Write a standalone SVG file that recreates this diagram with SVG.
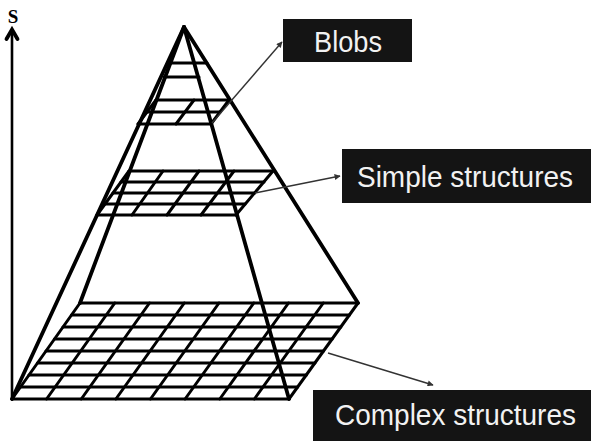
<svg xmlns="http://www.w3.org/2000/svg" width="591" height="441" viewBox="0 0 591 441">
  <style>
    .edge { stroke: #000; stroke-width: 3.8; stroke-linecap: round; fill: none; }
    .grid { stroke: #000; stroke-width: 3; stroke-linecap: round; fill: none; }
    .conn { stroke: #333; stroke-width: 1.4; fill: none; }
    .box { fill: #141414; }
    .lbl { font-family: "Liberation Sans", Arial, sans-serif; font-size: 29px; fill: #f2f2f2; }
    .axis { font-family: "Liberation Serif", "Times New Roman", serif; font-size: 19px; font-weight: bold; fill: #000; }
  </style>
  <defs>
    <marker id="ah" viewBox="0 0 10 10" refX="9" refY="5" markerWidth="7" markerHeight="6" orient="auto" markerUnits="userSpaceOnUse">
      <path d="M0,0 L10,5 L0,10 z" fill="#333"/>
    </marker>
  </defs>
  <rect width="591" height="441" fill="#fff"/>

  <g id="axis">
    <line class="grid" x1="12" y1="399" x2="12" y2="31" style="stroke-width:2.6"/>
    <polyline class="edge" points="6.5,39 12,29.5 17.5,39"/>
    <text class="axis" x="13" y="23" text-anchor="middle">S</text>
  </g>

  <g id="pyramid">
    <line class="edge" x1="184" y1="27" x2="12" y2="399"/>
    <line class="edge" x1="184" y1="27" x2="80" y2="303"/>
    <line class="edge" x1="184" y1="27" x2="289" y2="399"/>
    <line class="edge" x1="184" y1="27" x2="358" y2="303"/>
  </g>

  <g id="plane-top">
    <line class="grid" x1="172" y1="63" x2="207" y2="63"/>
    <line class="grid" x1="164" y1="77" x2="199" y2="77"/>
  </g>

  <g id="plane-blobs">
    <line class="grid" x1="156" y1="100" x2="229" y2="100"/>
    <line class="grid" x1="147" y1="112" x2="220" y2="112"/>
    <line class="grid" x1="138" y1="124" x2="211" y2="124"/>
    <line class="grid" x1="156" y1="100" x2="138" y2="124"/>
    <line class="grid" x1="194" y1="100" x2="176" y2="124"/>
    <line class="grid" x1="229" y1="100" x2="211" y2="124"/>
  </g>

  <g id="plane-simple">
    <line class="grid" x1="129" y1="171" x2="273" y2="171"/>
    <line class="grid" x1="121" y1="182" x2="264" y2="182"/>
    <line class="grid" x1="113" y1="193" x2="254.5" y2="193"/>
    <line class="grid" x1="105" y1="204" x2="245" y2="204"/>
    <line class="grid" x1="97" y1="215" x2="236" y2="215"/>
    <line class="grid" x1="129" y1="171" x2="97" y2="215"/>
    <line class="grid" x1="163" y1="171" x2="132" y2="215"/>
    <line class="grid" x1="199" y1="171" x2="167" y2="215"/>
    <line class="grid" x1="234" y1="171" x2="201" y2="215"/>
    <line class="grid" x1="273" y1="171" x2="236" y2="215"/>
  </g>

  <g id="plane-complex">
    <line class="grid" x1="80" y1="303" x2="358" y2="303"/>
    <line class="grid" x1="71.5" y1="315" x2="349.4" y2="315"/>
    <line class="grid" x1="63" y1="327" x2="340.8" y2="327"/>
    <line class="grid" x1="54.5" y1="339" x2="332.1" y2="339"/>
    <line class="grid" x1="46" y1="351" x2="323.5" y2="351"/>
    <line class="grid" x1="37.5" y1="363" x2="314.9" y2="363"/>
    <line class="grid" x1="29" y1="375" x2="306.3" y2="375"/>
    <line class="grid" x1="20.5" y1="387" x2="297.6" y2="387"/>
    <line class="grid" x1="12" y1="399" x2="289" y2="399"/>
    <line class="grid" x1="80" y1="303" x2="12" y2="399"/>
    <line class="grid" x1="114.8" y1="303" x2="46.6" y2="399"/>
    <line class="grid" x1="149.5" y1="303" x2="81.3" y2="399"/>
    <line class="grid" x1="184.3" y1="303" x2="115.9" y2="399"/>
    <line class="grid" x1="219" y1="303" x2="150.5" y2="399"/>
    <line class="grid" x1="253.8" y1="303" x2="185.1" y2="399"/>
    <line class="grid" x1="288.5" y1="303" x2="219.8" y2="399"/>
    <line class="grid" x1="323.3" y1="303" x2="254.4" y2="399"/>
    <line class="grid" x1="358" y1="303" x2="289" y2="399"/>
  </g>

  <g id="connectors">
    <line class="conn" x1="212" y1="123" x2="282" y2="42" marker-end="url(#ah)"/>
    <line class="conn" x1="255" y1="193" x2="340" y2="176" marker-end="url(#ah)"/>
    <line class="conn" x1="328" y1="353" x2="433" y2="385" marker-end="url(#ah)"/>
  </g>

  <g id="label-blobs">
    <rect class="box" x="283" y="19" width="129" height="43"/>
    <text class="lbl" x="348" y="52" text-anchor="middle" textLength="68" lengthAdjust="spacingAndGlyphs">Blobs</text>
  </g>

  <g id="label-simple">
    <rect class="box" x="342" y="149" width="249" height="54"/>
    <text class="lbl" x="357" y="187" textLength="216" lengthAdjust="spacingAndGlyphs">Simple structures</text>
  </g>

  <g id="label-complex">
    <rect class="box" x="313" y="390" width="278" height="51"/>
    <text class="lbl" x="335" y="425" textLength="241" lengthAdjust="spacingAndGlyphs">Complex structures</text>
  </g>
</svg>
